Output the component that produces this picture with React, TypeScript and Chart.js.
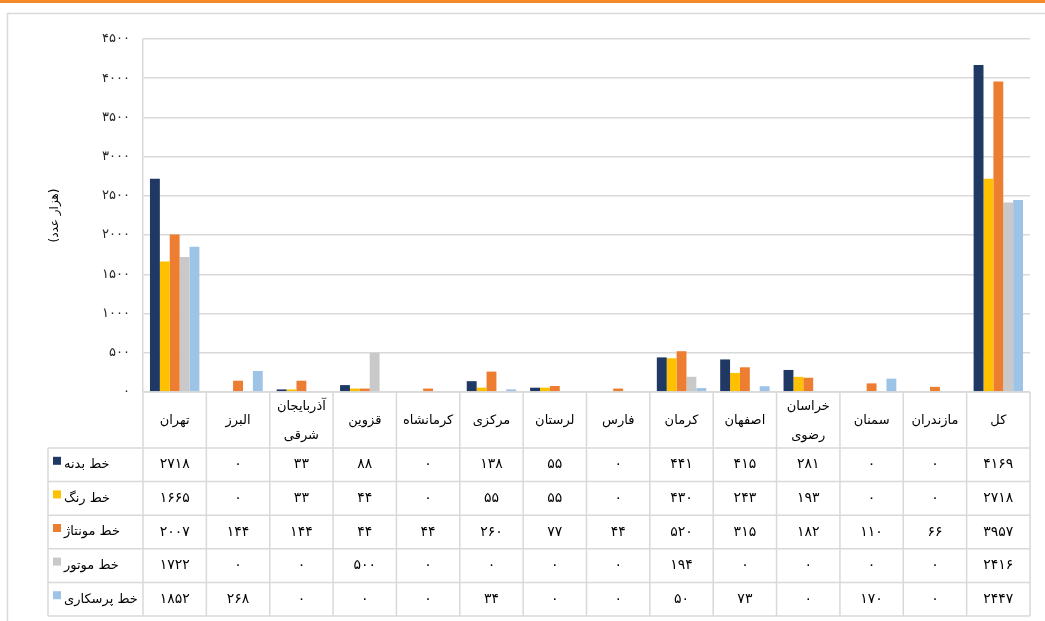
import React, { useEffect, useRef } from 'react';
import { Chart, registerables } from 'chart.js';

Chart.register(...registerables);

const categories: (string | string[])[] = [
  'تهران',
  'البرز',
  ['آذربایجان', 'شرقی'],
  'قزوین',
  'کرمانشاه',
  'مرکزی',
  'لرستان',
  'فارس',
  'کرمان',
  'اصفهان',
  ['خراسان', 'رضوی'],
  'سمنان',
  'مازندران',
  'کل',
];

const seriesNames = ['خط بدنه', 'خط رنگ', 'خط مونتاژ', 'خط موتور', 'خط پرسکاری'];
const seriesColors = ['#203864', '#FFC000', '#ED7D31', '#C9C9C9', '#9DC3E6'];

const bodyLine = [2718, 0, 33, 88, 0, 138, 55, 0, 441, 415, 281, 0, 0, 4169];
const paintLine = [1665, 0, 33, 44, 0, 55, 55, 0, 430, 243, 193, 0, 0, 2718];
const assemblyLine = [2007, 144, 144, 44, 44, 260, 77, 44, 520, 315, 182, 110, 66, 3957];
const engineLine = [1722, 0, 0, 500, 0, 0, 0, 0, 194, 0, 0, 0, 0, 2416];
const pressLine = [1852, 268, 0, 0, 0, 34, 0, 0, 50, 73, 0, 170, 0, 2447];

const seriesValues = [bodyLine, paintLine, assemblyLine, engineLine, pressLine];

const yMin = 0;
const yMax = 4500;
const yStep = 500;
const yTitle = '(هزار عدد)';

const FONT = '"DejaVu Sans", sans-serif';
const GRID = '#D9D9D9';

const toFa = (v: number | string) =>
  String(v).replace(/\d/g, (d) => '۰۱۲۳۴۵۶۷۸۹'[Number(d)]);

const framePlugin = {
  id: 'frame',
  beforeDraw(chart: any) {
    const ctx = chart.ctx;
    ctx.save();
    ctx.fillStyle = '#FFFFFF';
    ctx.fillRect(0, 0, chart.width, chart.height);
    ctx.fillStyle = '#F58A2A';
    ctx.fillRect(0, 0, chart.width, 3);
    ctx.strokeStyle = GRID;
    ctx.lineWidth = 1.5;
    ctx.strokeRect(7.5, 13.5, chart.width + 10, chart.height + 10);
    ctx.restore();
  },
};

const tablePlugin = {
  id: 'dataTable',
  afterDraw(chart: any) {
    const ctx = chart.ctx;
    const area = chart.chartArea;
    const xs = chart.scales.x;
    const n = categories.length;
    const w = (area.right - area.left) / n;
    const top = area.bottom;
    const headerH = 56;
    const rowH = 33.6;
    const legendLeft = 48;
    const dataTop = top + headerH;
    const bottom = dataTop + rowH * seriesNames.length;

    ctx.save();
    ctx.strokeStyle = GRID;
    ctx.lineWidth = 1.5;
    ctx.beginPath();
    ctx.moveTo(area.left, top);
    ctx.lineTo(area.right, top);
    for (let r = 0; r <= seriesNames.length; r++) {
      const y = dataTop + r * rowH;
      ctx.moveTo(legendLeft, y);
      ctx.lineTo(area.right, y);
    }
    for (let i = 0; i <= n; i++) {
      const x = area.left + i * w;
      ctx.moveTo(x, top);
      ctx.lineTo(x, bottom);
    }
    ctx.moveTo(legendLeft, dataTop);
    ctx.lineTo(legendLeft, bottom);
    ctx.stroke();

    ctx.fillStyle = '#000000';
    ctx.textBaseline = 'middle';
    ctx.textAlign = 'center';
    ctx.font = `13px ${FONT}`;
    const hc = top + headerH / 2 + 1;
    categories.forEach((c, i) => {
      const cx = xs.getPixelForValue(i);
      if (Array.isArray(c)) {
        ctx.fillText(c[0], cx, hc - 14);
        ctx.fillText(c[1], cx, hc + 15);
      } else {
        ctx.fillText(c, cx, hc);
      }
    });

    seriesValues.forEach((vals, r) => {
      const cy = dataTop + r * rowH + rowH / 2;
      ctx.font = `14px ${FONT}`;
      vals.forEach((v, i) => {
        const cx = xs.getPixelForValue(i);
        ctx.fillText(toFa(v), cx, cy);
      });
      ctx.fillStyle = seriesColors[r];
      ctx.fillRect(53, cy - 8, 8, 8);
      ctx.fillStyle = '#000000';
      ctx.textAlign = 'left';
      ctx.font = `13px ${FONT}`;
      ctx.fillText(seriesNames[r], 64, cy);
      ctx.textAlign = 'center';
    });
    ctx.restore();
  },
};

export default function App() {
  const ref = useRef<HTMLCanvasElement>(null);
  useEffect(() => {
    document.body.style.margin = '0';
    if (!ref.current) return;
    const chart = new Chart(ref.current, {
      type: 'bar',
      data: {
        labels: categories.map((c) => (Array.isArray(c) ? c.join(' ') : c)),
        datasets: seriesNames.map((name, i) => ({
          label: name,
          data: seriesValues[i],
          backgroundColor: seriesColors[i],
          borderWidth: 0,
          categoryPercentage: 0.78,
          barPercentage: 1.0,
        })),
      },
      options: {
        animation: false,
        responsive: false,
        maintainAspectRatio: false,
        layout: { padding: { left: 0, right: 15, top: 39, bottom: 229 } },
        plugins: {
          legend: { display: false },
          tooltip: { enabled: false },
          title: { display: false },
        },
        scales: {
          x: { display: false },
          y: {
            min: yMin,
            max: yMax,
            afterFit: (scale: any) => {
              scale.width = 143;
            },
            ticks: {
              stepSize: yStep,
              padding: 13,
              color: '#262626',
              font: { family: FONT, size: 13 },
              callback: (v: any) => toFa(v),
            },
            grid: { color: GRID, lineWidth: 1.5, drawTicks: false },
            border: { display: true, color: GRID, width: 1.5 },
            title: {
              display: true,
              text: yTitle,
              color: '#000000',
              font: { family: FONT, size: 12 },
              padding: { top: 48, bottom: 0 },
            },
          },
        },
      },
      plugins: [framePlugin, tablePlugin],
    });
    return () => chart.destroy();
  }, []);
  return (
    <div style={{ width: 1045, height: 621 }}>
      <canvas ref={ref} width={1045} height={621} style={{ display: 'block' }} />
    </div>
  );
}
